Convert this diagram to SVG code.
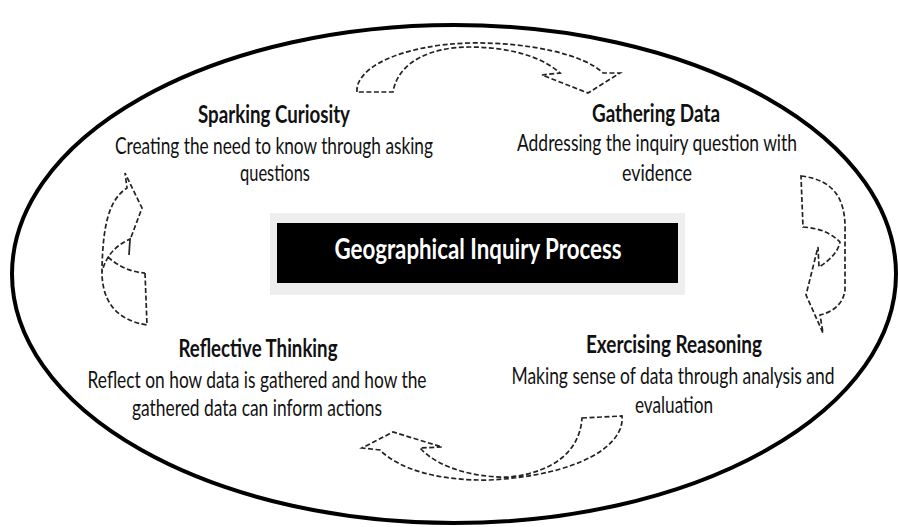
<svg xmlns="http://www.w3.org/2000/svg" width="898" height="527" viewBox="0 0 898 527">
<style>
.t{font-family:Lato,"Liberation Sans",sans-serif;font-size:24px;fill:#111;text-anchor:middle}
.h{font-weight:bold;font-size:25px}
.ti{font-family:Lato,"Liberation Sans",sans-serif;font-size:29px;font-weight:bold;fill:#fff;text-anchor:middle}
.arr{fill:none;stroke:#222;stroke-width:1.7;stroke-dasharray:5 2.5;stroke-linejoin:miter}
</style>
<rect width="898" height="527" fill="#fff"/>
<ellipse id="frame" cx="454" cy="274" rx="442" ry="249" fill="none" stroke="#000" stroke-width="4"/>
<g id="center">
<rect x="270" y="213" width="415" height="82" fill="#eeeeee"/>
<rect x="277" y="223" width="401" height="60" fill="#000"/>
<text class="ti" x="478" y="259" textLength="287" lengthAdjust="spacingAndGlyphs">Geographical Inquiry Process</text>
</g>
<g id="sparking">
<text class="t h" x="274" y="123" textLength="152" lengthAdjust="spacingAndGlyphs">Sparking Curiosity</text>
<text class="t" x="274" y="154" textLength="318" lengthAdjust="spacingAndGlyphs">Creating the need to know through asking</text>
<text class="t" x="275" y="181" textLength="70" lengthAdjust="spacingAndGlyphs">questions</text>
</g>
<g id="gathering">
<text class="t h" x="656" y="122" textLength="128" lengthAdjust="spacingAndGlyphs">Gathering Data</text>
<text class="t" x="657" y="151" textLength="280" lengthAdjust="spacingAndGlyphs">Addressing the inquiry question with</text>
<text class="t" x="657" y="181" textLength="70" lengthAdjust="spacingAndGlyphs">evidence</text>
</g>
<g id="reasoning">
<text class="t h" x="674" y="353" textLength="176" lengthAdjust="spacingAndGlyphs">Exercising Reasoning</text>
<text class="t" x="673" y="384" textLength="323" lengthAdjust="spacingAndGlyphs">Making sense of data through analysis and</text>
<text class="t" x="674" y="413" textLength="78" lengthAdjust="spacingAndGlyphs">evaluation</text>
</g>
<g id="reflective">
<text class="t h" x="258" y="357" textLength="159" lengthAdjust="spacingAndGlyphs">Reflective Thinking</text>
<text class="t" x="257" y="388" textLength="339" lengthAdjust="spacingAndGlyphs">Reflect on how data is gathered and how the</text>
<text class="t" x="257" y="416" textLength="250" lengthAdjust="spacingAndGlyphs">gathered data can inform actions</text>
</g>
<g id="connectors">
<path class="arr" d="M357,92 C355,68 400,45 470,43 C530,42 585,55 603,73 L620,73 L588,93 L542,75 L560,73 C540,55 505,47 470,47 C430,47 398,62 393,92 Z"/>
<path class="arr" d="M801,176 C835,180 846,200 845,232 L845,290 C843,305 832,312 820,315 L823,333 L806,295 L818,247 L819,267 C830,260 838,252 840,242 C830,232 818,228 803,227 Z"/>
<path class="arr" d="M582,418 L622,416 C625,445 580,475 490,480 C440,481 400,470 380,450 L362,448 L393,432 L442,447 L420,448 C440,470 480,478 510,477 C555,472 580,450 582,418 Z"/>
<path class="arr" d="M145,273 L147,325 C115,320 101,300 102,268 C103,228 108,200 127,188 L125,173 L142,208 L130,240 L129,255 L130,239 C115,246 106,256 102,272 M108,257 C118,266 130,272 145,273"/>
</g>
</svg>
